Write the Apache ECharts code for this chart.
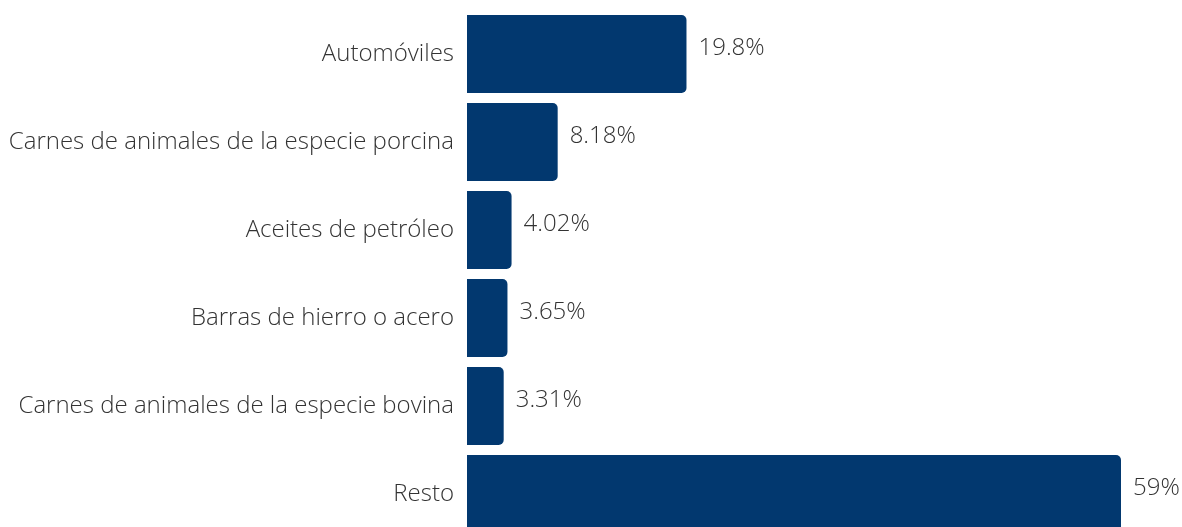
<!DOCTYPE html>
<html>
<head>
<meta charset="utf-8">
<script src="https://cdn.jsdelivr.net/npm/echarts@6/dist/echarts.min.js"></script>
<style>
    html, body { margin: 0; padding: 0; background: #fff; }
    #main { width: 1182px; height: 527px; }
</style>
</head>
<body>
<div id="main"></div>
<script>
// categorias y porcentajes
var categorias = [
    'Automóviles',
    'Carnes de animales de la especie porcina',
    'Aceites de petróleo',
    'Barras de hierro o acero',
    'Carnes de animales de la especie bovina',
    'Resto'
];
var valores = [19.8, 8.18, 4.02, 3.65, 3.31, 59];
var etiquetas = ['19.8%', '8.18%', '4.02%', '3.65%', '3.31%', '59%'];

var myChart = echarts.init(document.getElementById('main'));

var option = {
    animation: false,
    grid: {
        left: 467,
        right: 61,
        top: 10,
        height: 528,
        containLabel: false,
        outerBoundsMode: 'none'
    },
    xAxis: {
        type: 'value',
        min: 0,
        max: 'dataMax',
        show: false
    },
    yAxis: {
        type: 'category',
        inverse: true,
        data: categorias,
        axisLine: { show: false },
        axisTick: { show: false },
        splitLine: { show: false },
        axisLabel: {
            margin: 13,
            fontFamily: 'Open Sans',
            fontWeight: 300,
            fontSize: 24,
            color: '#333333',
            padding: [2, 0, 0, 0]
        }
    },
    series: [
        {
            type: 'bar',
            data: valores,
            barCategoryGap: '11.4%',
            itemStyle: {
                color: '#02386f',
                borderRadius: [0, 5, 5, 0]
            },
            label: {
                show: true,
                position: 'right',
                distance: 12,
                offset: [0, -6],
                fontFamily: 'Open Sans',
                fontWeight: 300,
                fontSize: 24,
                color: '#333333',
                formatter: function (p) {
                    return etiquetas[p.dataIndex];
                }
            }
        }
    ]
};

myChart.setOption(option);
</script>
</body>
</html>
